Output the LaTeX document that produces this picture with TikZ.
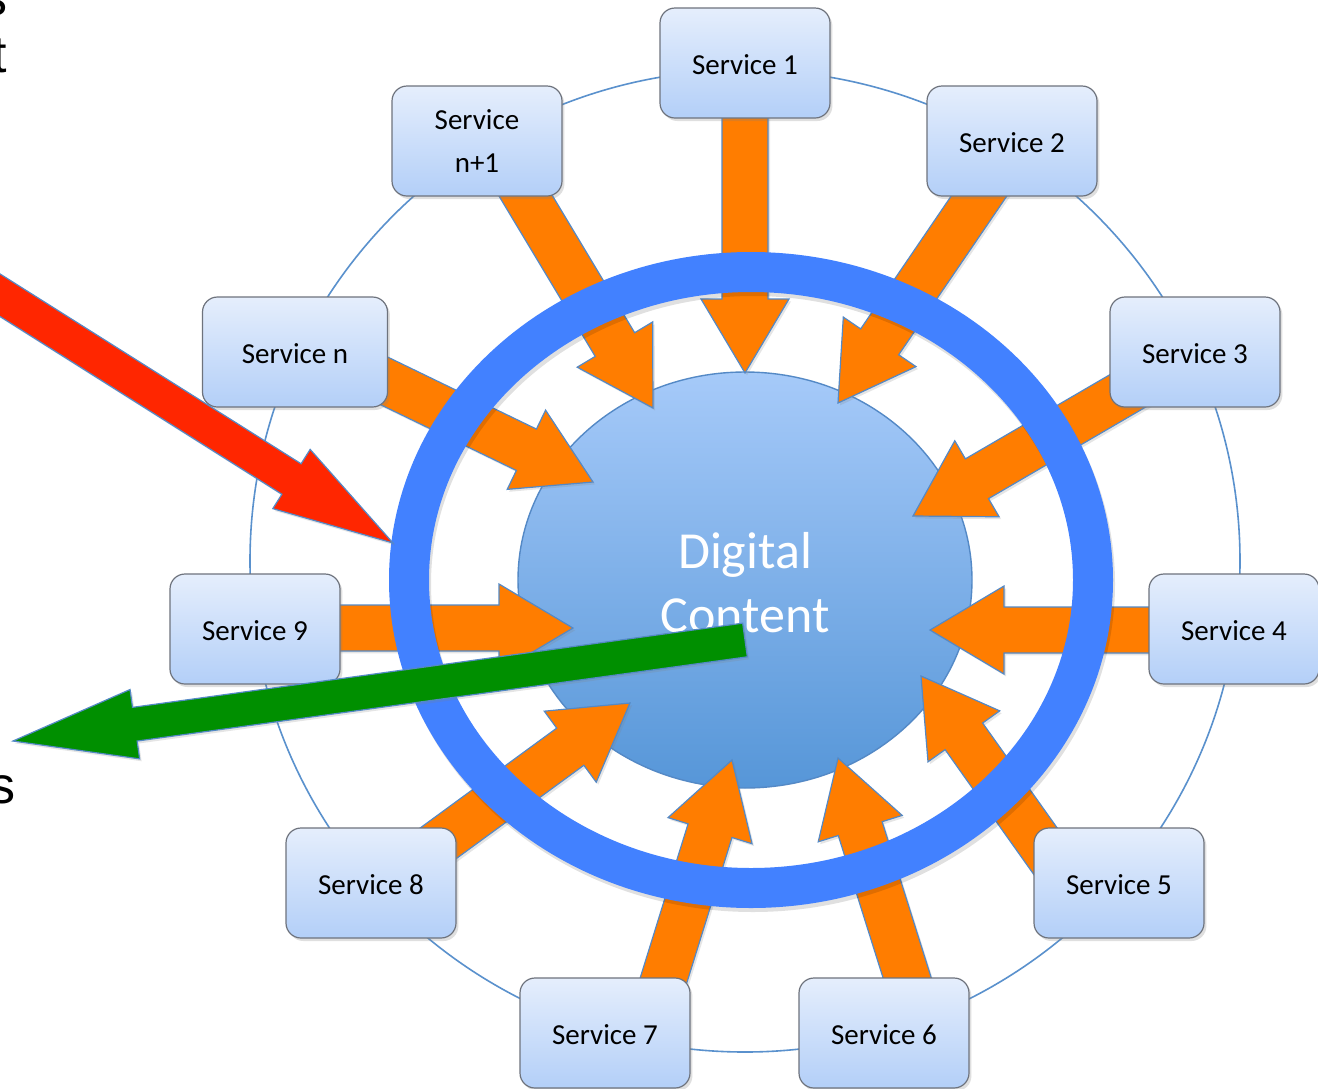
\documentclass[tikz,border=0pt]{standalone}
\usepackage{fontspec}
\setmainfont{Carlito}
\newfontfamily\arialfont{Liberation Sans}
\usetikzlibrary{calc,shadows}
\definecolor{orangefill}{RGB}{255,125,0}
\definecolor{arrowedge}{RGB}{84,137,198}
\definecolor{ringblue}{RGB}{66,129,255}
\definecolor{thinblue}{RGB}{90,145,205}
\definecolor{boxtop}{RGB}{229,238,252}
\definecolor{boxbot}{RGB}{179,207,248}
\definecolor{boxedge}{RGB}{110,115,125}
\definecolor{coretop}{RGB}{166,202,249}
\definecolor{corebot}{RGB}{86,150,216}
\definecolor{redfill}{RGB}{255,38,0}
\definecolor{greenfill}{RGB}{0,143,0}

% #1 name, #2 start, #3 tip, #4 shaft half width, #5 head half width, #6 head length, #7 style
\newcommand{\drawBlockArrow}[7]{%
  \coordinate (#1-b) at ($(#3)!#6!(#2)$);
  \path[#7] ($(#2)!#4!90:(#3)$) -- ($(#1-b)!#4!90:(#3)$) -- ($(#1-b)!#5!90:(#3)$)
     -- (#3) -- ($(#1-b)!#5!270:(#3)$) -- ($(#1-b)!#4!270:(#3)$) -- ($(#2)!#4!270:(#3)$) -- cycle;
}

\tikzset{
  svcbase/.style={draw=boxedge, line width=0.6pt, rounded corners=7.5pt,
    top color=boxtop, bottom color=boxbot, minimum width=85pt, minimum height=55pt,
    font=\fontsize{14.5}{21.5}\selectfont, align=center, inner sep=2pt,
    drop shadow={opacity=0.25, shadow xshift=1.2pt, shadow yshift=-1.5pt}},
  svcbox/.style={svcbase, text height=11.5pt, text depth=0pt},
  feedarrow/.style={fill=orangefill, draw=arrowedge, line width=0.6pt, line join=miter,
    drop shadow={opacity=0.2, shadow xshift=1pt, shadow yshift=-1.2pt}},
  redarrow/.style={fill=redfill, draw=arrowedge, line width=0.6pt, line join=miter,
    drop shadow={opacity=0.2, shadow xshift=1pt, shadow yshift=-1.2pt}},
  greenarrow/.style={fill=greenfill, draw=arrowedge, line width=0.6pt, line join=miter,
    drop shadow={opacity=0.2, shadow xshift=1pt, shadow yshift=-1.2pt}},
  corestyle/.style={top color=coretop, bottom color=corebot, draw=arrowedge, line width=0.7pt},
  coretext/.style={text=white, font=\fontsize{26}{32}\selectfont, inner sep=0pt, anchor=base},
  fragtext/.style={font=\arialfont\fontsize{26}{30}\selectfont, inner sep=0pt, anchor=base east}
}

\begin{document}
\begin{tikzpicture}[x=0.5pt, y=-0.5pt]
\clip (0,0) rectangle (1318,1088);
\fill[white] (0,0) rectangle (1318,1088);

% thin outer orbit
\draw[thinblue, line width=0.8pt] (745,561) ellipse [x radius=247.5pt, y radius=245.5pt];

% central content
\path[corestyle] (745,580) ellipse [x radius=113.5pt, y radius=104pt];

% arrow coordinates (start hidden under a box, tip near the core)
\coordinate (a1s) at (745,100);  \coordinate (a1t) at (745,373);
\coordinate (a2s) at (1007,155); \coordinate (a2t) at (838,403);
\coordinate (a3s) at (1155,375); \coordinate (a3t) at (913,516);
\coordinate (a4s) at (1200,630); \coordinate (a4t) at (930,630);
\coordinate (a5s) at (1083,904); \coordinate (a5t) at (921,676);
\coordinate (a6s) at (922,1025); \coordinate (a6t) at (838,758);
\coordinate (a7s) at (649,1027); \coordinate (a7t) at (732,760);
\coordinate (a8s) at (388,880);  \coordinate (a8t) at (630,703);
\coordinate (a9s) at (280,628);  \coordinate (a9t) at (573,628);
\coordinate (ans) at (341,360);  \coordinate (ant) at (593,482);
\coordinate (ams) at (509,168);  \coordinate (amt) at (653,408);

\drawBlockArrow{f1}{a1s}{a1t}{11.5pt}{22pt}{37pt}{feedarrow}
\drawBlockArrow{f2}{a2s}{a2t}{11.5pt}{22pt}{37pt}{feedarrow}
\drawBlockArrow{f3}{a3s}{a3t}{11.5pt}{22pt}{37pt}{feedarrow}
\drawBlockArrow{f4}{a4s}{a4t}{11.5pt}{22pt}{37pt}{feedarrow}
\drawBlockArrow{f5}{a5s}{a5t}{11.5pt}{22pt}{37pt}{feedarrow}
\drawBlockArrow{f6}{a6s}{a6t}{11.5pt}{22pt}{37pt}{feedarrow}
\drawBlockArrow{f7}{a7s}{a7t}{11.5pt}{22pt}{37pt}{feedarrow}
\drawBlockArrow{f8}{a8s}{a8t}{11.5pt}{22pt}{37pt}{feedarrow}
\drawBlockArrow{f9}{a9s}{a9t}{11.5pt}{22pt}{37pt}{feedarrow}
\drawBlockArrow{fn}{ans}{ant}{11.5pt}{22pt}{37pt}{feedarrow}
\drawBlockArrow{fm}{ams}{amt}{11.5pt}{22pt}{37pt}{feedarrow}

% blue ring with soft shadow
\draw[black, opacity=0.12, line width=20pt] (753,584) ellipse [x radius=171pt, y radius=154pt];
\draw[ringblue, line width=20pt] (751,580) ellipse [x radius=171pt, y radius=154pt];

% service boxes
\node[svcbox] (s1) at (745,63) {Service 1};
\node[svcbox] (s2) at (1012,141) {Service 2};
\node[svcbox] (s3) at (1195,352) {Service 3};
\node[svcbox] (s4) at (1234,629) {Service 4};
\node[svcbox] (s5) at (1119,883) {Service 5};
\node[svcbox] (s6) at (884,1033) {Service 6};
\node[svcbox] (s7) at (605,1033) {Service 7};
\node[svcbox] (s8) at (371,883) {Service 8};
\node[svcbox] (s9) at (255,629) {Service 9};
\node[svcbox, minimum width=92.5pt] (sn) at (295,352) {Service n};
\node[svcbase] (sm) at (477,141) {\raisebox{-1pt}{Service}\\\raisebox{-1pt}{n+1}};

% core label
\node[coretext] (dig) at (745,568) {Digital};
\node[coretext] (con) at (745,632) {Content};

% red incoming arrow and green outgoing arrow
\coordinate (rs) at (-216,159); \coordinate (rt) at (393,543);
\drawBlockArrow{red}{rs}{rt}{9pt}{17.5pt}{60pt}{redarrow}
\coordinate (gs) at (745,640); \coordinate (gt) at (13,741);
\drawBlockArrow{grn}{gs}{gt}{8.5pt}{17.5pt}{61.5pt}{greenarrow}

% text fragments cut by the left edge (as in the reference)
\node[fragtext] (fr1) at (8,15) {s};
\node[fragtext] (fr2) at (7.5,72) {t};
\node[fragtext] (fr3) at (16,803) {s};
\end{tikzpicture}
\end{document}
